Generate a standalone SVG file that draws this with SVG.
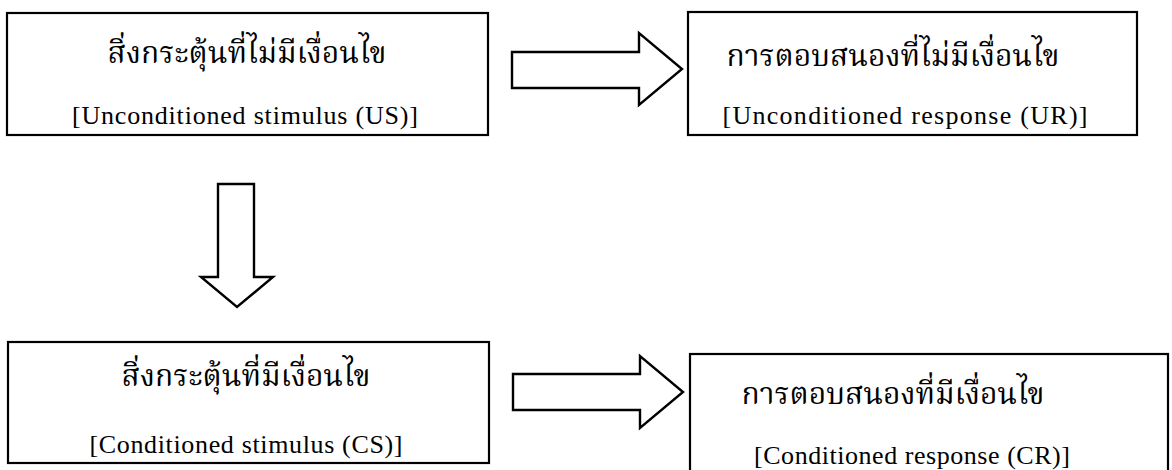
<svg xmlns="http://www.w3.org/2000/svg" width="1172" height="470" viewBox="0 0 1172 470">
<style>
.box{fill:#fff;stroke:#000;stroke-width:2.2}
.arr{fill:#fff;stroke:#000;stroke-width:2.4;stroke-linejoin:miter}
.th{font-family:"Noto Serif Thai","Noto Sans Thai","Liberation Serif","DejaVu Serif",serif;font-size:30px;fill:#000;text-anchor:middle}
.en{font-family:"Liberation Serif","Times New Roman",serif;font-size:26px;fill:#000;text-anchor:middle}
</style>
<rect width="1172" height="470" fill="#fff"/>
<g id="connectors">
<path class="arr" d="M512,52 H639 V33 L682,69 L639,105 V88 H512 Z"/>
<path class="arr" d="M513,374 H640 V356 L683,392 L640,428 V410 H513 Z"/>
<path class="arr" d="M218,184 H254 V277 H273 L237,307 L201,277 H218 Z"/>
</g>
<g id="us">
<rect class="box" x="7" y="13" width="481" height="122"/>
<text class="th" x="247" y="63">สิ่งกระตุ้นที่ไม่มีเงื่อนไข</text>
<text class="en" x="245" y="124" textLength="346" lengthAdjust="spacing">[Unconditioned  stimulus (US)]</text>
</g>
<g id="ur">
<rect class="box" x="688" y="12" width="449" height="123"/>
<text class="th" x="893" y="66">การตอบสนองที่ไม่มีเงื่อนไข</text>
<text class="en" x="905" y="124" textLength="365" lengthAdjust="spacing">[Unconditioned  response (UR)]</text>
</g>
<g id="cs">
<rect class="box" x="8" y="342" width="481" height="121"/>
<text class="th" x="246" y="386">สิ่งกระตุ้นที่มีเงื่อนไข</text>
<text class="en" x="246" y="453" textLength="313" lengthAdjust="spacing">[Conditioned  stimulus (CS)]</text>
</g>
<g id="cr">
<rect class="box" x="690" y="354" width="478" height="120"/>
<text class="th" x="893" y="404">การตอบสนองที่มีเงื่อนไข</text>
<text class="en" x="912" y="464" textLength="316" lengthAdjust="spacing">[Conditioned  response (CR)]</text>
</g>
</svg>
